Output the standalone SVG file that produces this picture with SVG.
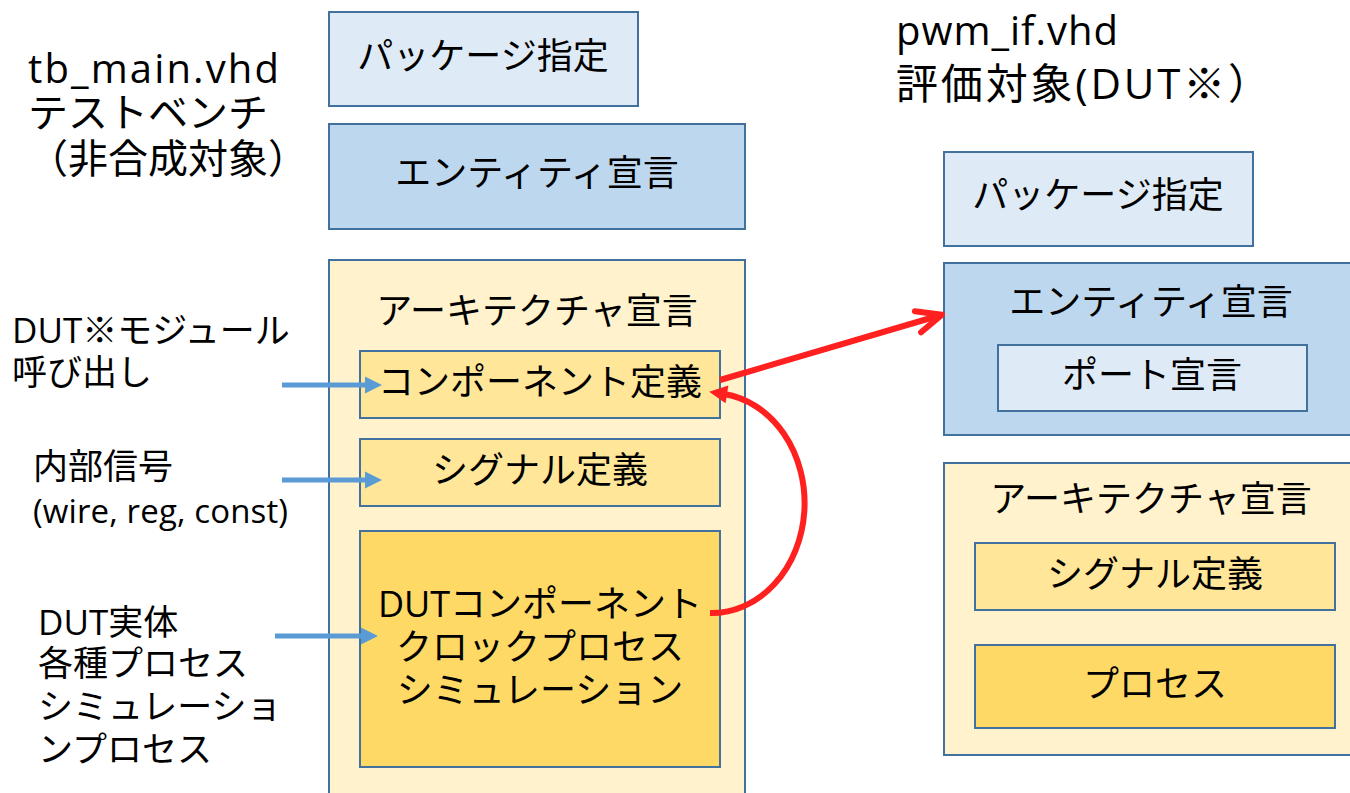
<svg xmlns="http://www.w3.org/2000/svg" width="1350" height="793" viewBox="0 0 1350 793">
<style>
text{font-family:"Open Sans","Noto Sans CJK JP",sans-serif;fill:#000}
.t{font-size:35px}
.b{font-size:36px}
.c{text-anchor:middle}
.h{font-size:40px}
.box{stroke:#41719C;stroke-width:2}
.lb{fill:#DEEBF7}
.mb{fill:#BDD7EE}
.ly{fill:#FFF2CC}
.my{fill:#FFE699}
.dy{fill:#FFD966}
.blue{stroke:#5B9BD5;stroke-width:5;fill:none}
.red{stroke:#FF2020;stroke-width:6;fill:none}
</style>
<defs>
<marker id="bh" markerUnits="userSpaceOnUse" markerWidth="20" markerHeight="20" refX="0" refY="0" orient="auto" overflow="visible">
<path d="M-7,-8.5 L10,0 L-7,8.5 z" fill="#5B9BD5"/>
</marker>
<marker id="ro" markerUnits="userSpaceOnUse" markerWidth="30" markerHeight="30" refX="0" refY="0" orient="auto" overflow="visible">
<path d="M-24,-11 L1,0 L-24,11" fill="none" stroke="#FF2020" stroke-width="6" stroke-linecap="round" stroke-linejoin="round"/>
</marker>
<marker id="rf" markerUnits="userSpaceOnUse" markerWidth="30" markerHeight="30" refX="0" refY="0" orient="auto" overflow="visible">
<path d="M-3,-9 L15,0 L-3,9 z" fill="#FF2020"/>
</marker>
</defs>

<g id="title-left">
<text class="h" x="28" y="83" textLength="251" lengthAdjust="spacing">tb_main.vhd</text>
<text class="h" x="28" y="127">テストベンチ</text>
<text class="h" x="28" y="173">（非合成対象）</text>
</g>
<g id="title-right">
<text class="h" x="896" y="45" textLength="222" lengthAdjust="spacing">pwm_if.vhd</text>
<text x="896" y="99" font-size="42" textLength="374" lengthAdjust="spacing">評価対象(DUT※）</text>
</g>

<g id="label-dut-call">
<text class="t" x="12" y="343">DUT※モジュール</text>
<text class="t" x="12" y="385">呼び出し</text>
</g>
<g id="label-internal">
<text class="t" x="33" y="479">内部信号</text>
<text x="33" y="523" font-size="33" textLength="255" lengthAdjust="spacing">(wire, reg, const)</text>
</g>
<g id="label-dut-body">
<text class="t" x="38" y="635">DUT実体</text>
<text class="t" x="38" y="676">各種プロセス</text>
<text class="t" x="38" y="719">シミュレーショ</text>
<text class="t" x="38" y="762">ンプロセス</text>
</g>

<g id="tb-package">
<rect class="box lb" x="329" y="12" width="309" height="94"/>
<text class="b c" x="483" y="69">パッケージ指定</text>
</g>
<g id="tb-entity">
<rect class="box mb" x="329" y="124" width="416" height="105"/>
<text class="b c" x="537" y="186">エンティティ宣言</text>
</g>
<g id="tb-arch">
<rect class="box ly" x="329" y="260" width="416" height="570"/>
<text class="b c" x="537" y="324">アーキテクチャ宣言</text>
</g>
<g id="tb-component">
<rect class="box my" x="360" y="351" width="360" height="67"/>
<text class="b c" x="540" y="395">コンポーネント定義</text>
</g>
<g id="tb-signal">
<rect class="box my" x="360" y="439" width="360" height="67"/>
<text class="b c" x="540" y="483">シグナル定義</text>
</g>
<g id="tb-dut">
<rect class="box dy" x="360" y="531" width="360" height="236"/>
<text class="b c" x="540" y="617">DUTコンポーネント</text>
<text class="b c" x="540" y="660">クロックプロセス</text>
<text class="b c" x="540" y="703">シミュレーション</text>
</g>

<g id="dut-package">
<rect class="box lb" x="944" y="152" width="309" height="94"/>
<text class="b c" x="1098" y="208">パッケージ指定</text>
</g>
<g id="dut-entity">
<rect class="box mb" x="944" y="263" width="420" height="172"/>
<text class="b c" x="1151" y="315">エンティティ宣言</text>
</g>
<g id="dut-port">
<rect class="box lb" x="998" y="345" width="309" height="66"/>
<text class="b c" x="1152" y="388">ポート宣言</text>
</g>
<g id="dut-arch">
<rect class="box ly" x="944" y="463" width="420" height="292"/>
<text class="b c" x="1151" y="512">アーキテクチャ宣言</text>
</g>
<g id="dut-signal">
<rect class="box my" x="975" y="543" width="360" height="67"/>
<text class="b c" x="1155" y="587">シグナル定義</text>
</g>
<g id="dut-process">
<rect class="box dy" x="975" y="645" width="360" height="83"/>
<text class="b c" x="1155" y="697">プロセス</text>
</g>

<g id="connectors">
<line class="blue" x1="282" y1="385" x2="372" y2="385" marker-end="url(#bh)"/>
<line class="blue" x1="282" y1="480" x2="372" y2="480" marker-end="url(#bh)"/>
<line class="blue" x1="275" y1="636" x2="368" y2="636" marker-end="url(#bh)"/>
<line class="red" x1="720" y1="380" x2="941" y2="315" marker-end="url(#ro)"/>
<path class="red" d="M710,613 A93,110 0 0 0 724,394" marker-end="url(#rf)"/>
</g>
</svg>
